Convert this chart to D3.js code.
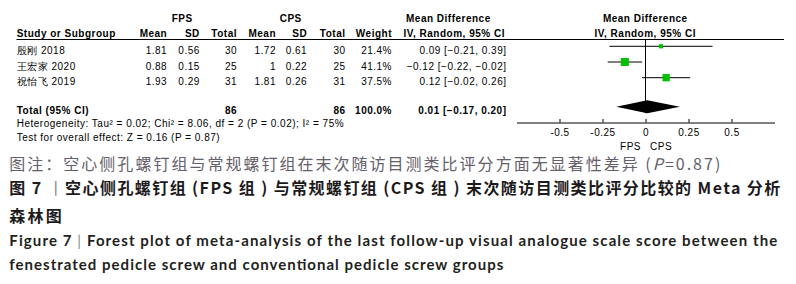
<!DOCTYPE html>
<html><head><meta charset="utf-8">
<script src="https://cdn.jsdelivr.net/npm/d3@7"></script>
<style>body{margin:0;background:#fff} svg{display:block}</style>
</head><body><svg id="c" width="796" height="284"></svg>
<script>
// ---- data ----
const studies = ["殷刚 2018", "王宏家 2020", "祝怡飞 2019"];
const fpsMean = [1.81, 0.88, 1.93];
const fpsSD = [0.56, 0.15, 0.29];
const fpsN = [30, 25, 31];
const cpsMean = [1.72, 1, 1.81];
const cpsSD = [0.61, 0.22, 0.26];
const cpsN = [30, 25, 31];
const weights = [21.4, 41.1, 37.5];
const md = [0.09, -0.12, 0.12];
const ciLow = [-0.21, -0.22, -0.02];
const ciHigh = [0.39, -0.02, 0.26];
const totalLabel = "Total (95% CI)";
const totalN = [86, 86];
const totalWeight = 100.0;
const totalMD = [0.01, -0.17, 0.20]; // estimate, low, high
const axisTicks = [-0.5, -0.25, 0, 0.25, 0.5];
const tickLabels = ["-0.5", "-0.25", "0", "0.25", "0.5"];
const heterogeneity = "Heterogeneity: Tau² = 0.02; Chi² = 8.06, df = 2 (P = 0.02); I² = 75%";
const overallEffect = "Test for overall effect: Z = 0.16 (P = 0.87)";
const favours = ["FPS", "CPS"];

// ---- layout ----
const svg = d3.select("#c");
svg.append("rect").attr("width", 796).attr("height", 284).attr("fill", "#fff");
const F = "'Liberation Sans', Arial, sans-serif";
const fs = 10;
const LS = 0.5;
const x = d3.scaleLinear().domain([-0.75, 0.75]).range([516.5, 774.5]);
const rowY = d3.scaleLinear().domain([0, 1]).range([46.3, 62]);
const totalY = 106.7;
const sq = d3.scaleLinear().domain([0, 41.1]).range([0, 8]);
const base = 7.5;

const g = svg.append("g").attr("font-family", F).attr("font-size", fs).attr("fill", "#000")
  .attr("letter-spacing", LS);

function txt(sel, s, xx, yy, anchor, bold) {
  const off = (anchor === "end") ? LS : (anchor === "middle" ? LS / 2 : 0);
  return sel.append("text").attr("x", xx + off).attr("y", yy).attr("text-anchor", anchor || "start")
    .attr("font-weight", bold ? "bold" : "normal").text(s);
}

// headers
txt(g, "FPS", 182, 22, "middle", true);
txt(g, "CPS", 290.5, 22, "middle", true);
txt(g, "Mean Difference", 406, 22, "start", true);
txt(g, "Mean Difference", 645, 22, "middle", true);
txt(g, "Study or Subgroup", 16.7, 36.5, "start", true);
const colRight = [166.7, 199.3, 236.5, 275.5, 306.7, 345, 391.5];
["Mean", "SD", "Total", "Mean", "SD", "Total", "Weight"].forEach((h, i) => txt(g, h, colRight[i], 36.5, "end", true));
txt(g, "IV, Random, 95% CI", 403.5, 36.5, "start", true);
txt(g, "IV, Random, 95% CI", 645, 36.5, "middle", true);
g.append("line").attr("x1", 16.5).attr("x2", 784).attr("y1", 39.5).attr("y2", 39.5).attr("stroke", "#000");

const ciRight = 506;
const fmt2 = d3.format(".2f");
studies.forEach((s, i) => {
  const yb = rowY(i) + base;
  txt(g, s, 16.7, yb);
  const vals = [String(fpsMean[i]), String(fpsSD[i]), String(fpsN[i]), String(cpsMean[i]), String(cpsSD[i]), String(cpsN[i]), weights[i].toFixed(1) + "%"];
  vals.forEach((v, j) => txt(g, v, colRight[j], yb, "end"));
  txt(g, `${fmt2(md[i])} [${fmt2(ciLow[i])}, ${fmt2(ciHigh[i])}]`, ciRight, yb, "end");
});
// total
txt(g, totalLabel, 16.7, totalY + base, "start", true);
txt(g, String(totalN[0]), colRight[2], totalY + base, "end", true);
txt(g, String(totalN[1]), colRight[5], totalY + base, "end", true);
txt(g, totalWeight.toFixed(1) + "%", colRight[6], totalY + base, "end", true);
txt(g, `${fmt2(totalMD[0])} [${fmt2(totalMD[1])}, ${fmt2(totalMD[2])}]`, ciRight, totalY + base, "end", true);
txt(g, heterogeneity, 16.7, 127);
txt(g, overallEffect, 16.7, 140.5);

// plot
const p = svg.append("g");
p.append("line").attr("x1", x(0)).attr("x2", x(0)).attr("y1", 40).attr("y2", totalY + 6.5).attr("stroke", "#000");
studies.forEach((s, i) => {
  const yy = rowY(i);
  p.append("line").attr("x1", x(ciLow[i])).attr("x2", x(ciHigh[i])).attr("y1", yy).attr("y2", yy).attr("stroke", "#000");
  const w = sq(weights[i]);
  p.append("rect").attr("x", x(md[i]) - w / 2).attr("y", yy - w / 2).attr("width", w).attr("height", w).attr("fill", "#00c000");
});
p.append("path").attr("d", `M${x(totalMD[1])},${totalY}L${x(totalMD[0])},${totalY - 6.5}L${x(totalMD[2])},${totalY}L${x(totalMD[0])},${totalY + 6.5}Z`).attr("fill", "#000");

const ax = svg.append("g").attr("transform", "translate(0,122.5)")
  .call(d3.axisBottom(x).tickValues(axisTicks).tickFormat((d, i) => tickLabels[i]).tickSize(-3.5).tickPadding(6).tickSizeOuter(0));
ax.select(".domain").attr("stroke", "#000");
ax.selectAll(".tick line").attr("stroke", "#000").attr("y2", -3.5);
ax.selectAll(".tick text").attr("font-family", F).attr("font-size", fs).attr("fill", "#000").attr("letter-spacing", LS);

svg.append("clipPath").attr("id", "cl").append("rect").attr("x", 0).attr("y", 0).attr("width", 796).attr("height", 150.5);
const fv = svg.append("g").attr("clip-path", "url(#cl)").attr("font-family", F).attr("font-size", fs).attr("letter-spacing", LS);
txt(fv, favours[0], x(0) - 5, 150.3, "end");
txt(fv, favours[1], x(0) + 4.5, 150.3, "start");

// captions
const cap = svg.append("g");
const CJK = "'Noto Sans CJK SC', sans-serif";
const l1 = cap.append("text").attr("x", 9.3).attr("y", 170).attr("font-family", CJK).attr("font-size", 16)
  .attr("fill", "#66606b").attr("textLength", 711).attr("lengthAdjust", "spacing");
l1.append("tspan").text("图注：空心侧孔螺钉组与常规螺钉组在末次随访目测类比评分方面无显著性差异 (");
l1.append("tspan").attr("font-style", "italic").text("P");
l1.append("tspan").text("=0.87)");

const l2 = cap.append("text").attr("x", 9.3).attr("y", 193.5).attr("font-family", CJK).attr("font-size", 16)
  .attr("font-weight", "bold").attr("fill", "#1d1a1c").attr("textLength", 771).attr("lengthAdjust", "spacing");
l2.append("tspan").text("图 7 ");
l2.append("tspan").attr("fill", "#888").attr("font-weight", "normal").text("丨");
l2.append("tspan").text("空心侧孔螺钉组 (FPS 组 ) 与常规螺钉组 (CPS 组 ) 末次随访目测类比评分比较的 Meta 分析");
cap.append("text").attr("x", 9.3).attr("y", 221.5).attr("font-family", CJK).attr("font-size", 16)
  .attr("font-weight", "bold").attr("fill", "#1d1a1c").attr("textLength", 52.5).attr("lengthAdjust", "spacing").text("森林图");

const EN = "Lato, 'Open Sans', sans-serif";
const l4 = cap.append("text").attr("x", 9.3).attr("y", 245.5).attr("font-family", EN).attr("font-size", 15)
  .attr("font-weight", "bold").attr("fill", "#231f20").attr("textLength", 768).attr("lengthAdjust", "spacing");
l4.append("tspan").text("Figure 7   ");
l4.append("tspan").attr("fill", "#888").attr("font-weight", "normal").text("|");
l4.append("tspan").text("   Forest plot of meta-analysis of the last follow-up visual analogue scale score between the");
cap.append("text").attr("x", 9.3).attr("y", 270).attr("font-family", EN).attr("font-size", 15)
  .attr("font-weight", "bold").attr("fill", "#231f20").attr("textLength", 494).attr("lengthAdjust", "spacing")
  .text("fenestrated pedicle screw and conventional pedicle screw groups");
</script></body></html>
